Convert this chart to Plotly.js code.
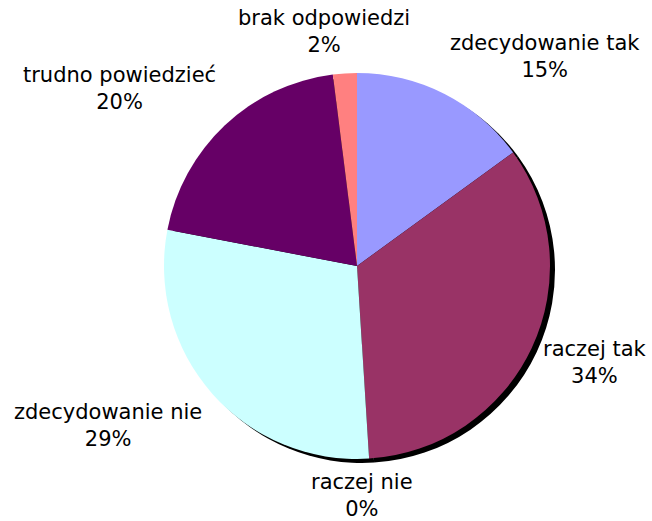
<!DOCTYPE html>
<html>
<head>
<meta charset="utf-8">
<script src="https://cdn.plot.ly/plotly-3.0.1.min.js"></script>
<style>html,body{margin:0;padding:0;background:#fff;}#chart{width:652px;height:521px;}</style>
</head>
<body>
<div id="chart"></div>
<script>
const categories = ["zdecydowanie tak", "raczej tak", "raczej nie", "zdecydowanie nie", "trudno powiedzieć", "brak odpowiedzi"];
const percents = [15, 34, 0, 29, 20, 2];
const colors = ["#9999FF", "#993366", "#FFFFCC", "#CCFFFF", "#660066", "#FF8080"];

// label anchor positions (paper coords) for each category
const labelPos = [
  [0.836, 0.891],
  [0.913, 0.305],
  [0.555, 0.048],
  [0.166, 0.184],
  [0.184, 0.831],
  [0.497, 0.939]
];

const W = 652, H = 521;
const cx = 357, cy = 266, r = 193;
const dom = {x: [(cx - r) / W, (cx + r) / W], y: [(H - cy - r) / H, (H - cy + r) / H]};
const sdx = 5 / W, sdy = 4 / H;

const shadow = {
  type: 'pie', values: percents, labels: categories, sort: false, direction: 'clockwise', rotation: 0,
  marker: {colors: categories.map(() => '#000000'), line: {width: 0}},
  textinfo: 'none', hoverinfo: 'skip', showlegend: false,
  domain: {x: [dom.x[0] + sdx, dom.x[1] + sdx], y: [dom.y[0] - sdy, dom.y[1] - sdy]}
};
const pie = {
  type: 'pie', values: percents, labels: categories, sort: false, direction: 'clockwise', rotation: 0,
  marker: {colors: colors, line: {width: 0}},
  textinfo: 'none', showlegend: false,
  domain: dom
};

const annotations = categories.map((c, i) => ({
  text: c + '<br>' + percents[i] + '%',
  x: labelPos[i][0], y: labelPos[i][1], xref: 'paper', yref: 'paper',
  xanchor: 'center', yanchor: 'middle', align: 'center', showarrow: false, borderpad: 0,
  font: {family: 'DejaVu Sans, Verdana, sans-serif', size: 21, color: '#000'}
}));

Plotly.newPlot('chart', [shadow, pie], {
  width: W, height: H, margin: {l: 0, r: 0, t: 0, b: 0},
  paper_bgcolor: '#fff', plot_bgcolor: '#fff',
  showlegend: false, annotations: annotations
}, {displayModeBar: false, staticPlot: true});
</script>
</body>
</html>
